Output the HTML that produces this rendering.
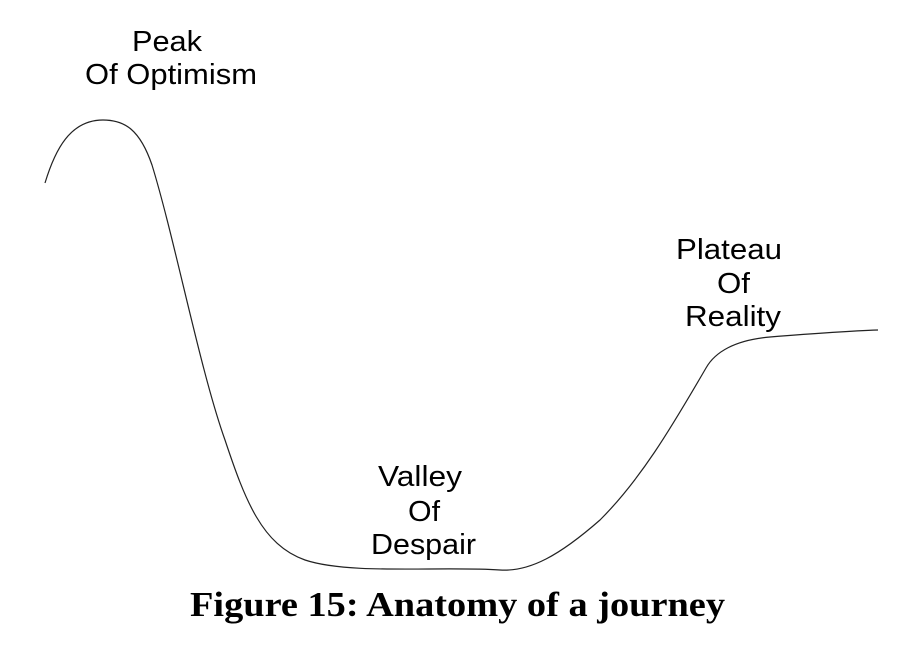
<!DOCTYPE html>
<html><head><meta charset="utf-8"><style>
html,body{margin:0;padding:0;background:#fff;width:904px;height:654px;overflow:hidden}
svg{display:block}
</style></head><body>
<svg width="904" height="654" viewBox="0 0 904 654" xmlns="http://www.w3.org/2000/svg">
<path d="M45,183 C55,150 70,120 103,120 C125,120 140,130 152,165 C175,240 200,370 225,440 C245,500 262,545 305,560 C350,575 440,566 500,570 C530,572 560,555 600,520 C640,480 670,430 706,368 C715,352 735,340 770,337 C820,333 850,331 878,330" fill="none" stroke="#222" stroke-width="1.2"/>
<g font-family="Liberation Sans, Arial, sans-serif" font-size="29" fill="#000">
<text x="132" y="51" textLength="70" lengthAdjust="spacingAndGlyphs">Peak</text>
<text x="85" y="84" textLength="172" lengthAdjust="spacingAndGlyphs">Of Optimism</text>
<text x="676" y="259" textLength="106" lengthAdjust="spacingAndGlyphs">Plateau</text>
<text x="717" y="293" textLength="33" lengthAdjust="spacingAndGlyphs">Of</text>
<text x="685" y="326" textLength="96" lengthAdjust="spacingAndGlyphs">Reality</text>
<text x="378" y="486" textLength="84" lengthAdjust="spacingAndGlyphs">Valley</text>
<text x="408" y="521" textLength="32" lengthAdjust="spacingAndGlyphs">Of</text>
<text x="371" y="554" textLength="105" lengthAdjust="spacingAndGlyphs">Despair</text>
</g>
<text x="190" y="616" font-family="Liberation Serif, serif" font-weight="bold" font-size="35" textLength="535" lengthAdjust="spacingAndGlyphs">Figure 15: Anatomy of a journey</text>
</svg>
</body></html>
